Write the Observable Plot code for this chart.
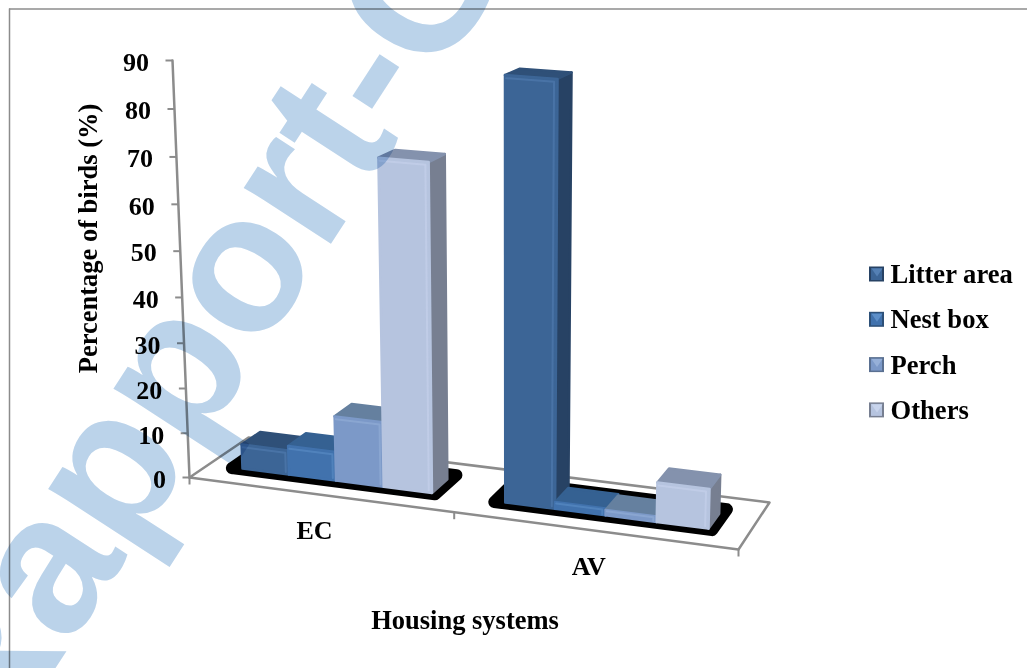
<!DOCTYPE html>
<html>
<head>
<meta charset="utf-8">
<style>
  html, body { margin: 0; padding: 0; background: #fff; }
  svg { display: block; }
</style>
<script src="https://cdn.jsdelivr.net/npm/d3@7"></script>
<script src="https://cdn.jsdelivr.net/npm/@observablehq/plot@0.6"></script>
</head>
<body>
<div id="chart"></div>
<script>
// Chart values
const categories = ["EC", "AV"];
const series = ["Litter area", "Nest box", "Perch", "Others"];
const ecValues = [5.5, 6.5, 14.5, 71.5];
const avValues = [90.5, 1.5, 1.2, 8.6];
const yTicks = [0, 10, 20, 30, 40, 50, 60, 70, 80, 90];

// Face shades per series
const frontShade = ["#3c6596", "#4172ad", "#7c99c8", "#b6c4df"];
const sideShade = ["#274264", "#2d5078", "#5a7091", "#777f91"];
const topShade = ["#2f5078", "#356192", "#65809f", "#8492ad"];
const glowShade = ["#5480b4", "#5d8fc9", "#96b0d8", "#c8d4ec"];

// Perspective camera: category/depth/value to page coordinates
const quad = [[189, 477], [738, 549], [769, 502], [248, 437]];
const vanish = [510, 8350];
const camera = (() => {
  const [[x0, y0], [x1, y1], [x2, y2], [x3, y3]] = quad;
  const dx1 = x1 - x2, dx2 = x3 - x2, sx = x0 - x1 + x2 - x3;
  const dy1 = y1 - y2, dy2 = y3 - y2, sy = y0 - y1 + y2 - y3;
  const det = dx1 * dy2 - dx2 * dy1;
  const g = (sx * dy2 - dx2 * sy) / det;
  const h = (dx1 * sy - sx * dy1) / det;
  return {
    a: x1 - x0 + g * x1, b: x3 - x0 + h * x3, c: x0,
    d: y1 - y0 + g * y1, e: y3 - y0 + h * y3, f: y0,
    g, h, j: (60 - 477) / (90 * (vanish[1] - 60))
  };
})();
function project(u, v, value) {
  const s = u / 2, k = camera;
  const w = k.g * s + k.h * v + 1 + k.j * value;
  return {
    x: (k.a * s + k.b * v + k.c + vanish[0] * k.j * value) / w,
    y: (k.d * s + k.e * v + k.f + vanish[1] * k.j * value) / w
  };
}

const pad = 0.132, barWidth = 0.182, v0 = 0.32, v1 = 0.64;

// Closed polygon rows for a set of corners
let polygonId = 0;
function polygon(corners, fill) {
  const id = polygonId++;
  return [...corners, corners[0]].map(([u, v, h]) => ({ ...project(u, v, h), id, fill }));
}

const barFaces = [];
const barGlow = [];
categories.forEach((category, g) => {
  const values = g === 0 ? ecValues : avValues;
  series.forEach((name, i) => {
    const h = values[i];
    const u0 = g + pad + i * barWidth, u1 = u0 + barWidth;
    barFaces.push(
      ...polygon([[u1, v0, 0], [u1, v1, 0], [u1, v1, h], [u1, v0, h]], sideShade[i]),
      ...polygon([[u0, v0, h], [u1, v0, h], [u1, v1, h], [u0, v1, h]], topShade[i]),
      ...polygon([[u0, v0, 0], [u1, v0, 0], [u1, v0, h], [u0, v0, h]], frontShade[i])
    );
    // Bevel highlight along the top and right edges of the front face
    const id = polygonId++;
    const inset = 0.012, drop = Math.min(0.6, h * 0.2);
    barGlow.push(
      ...[[u0 + 0.004, v0, h - drop], [u1 - inset, v0, h - drop], [u1 - inset, v0, Math.min(h * 0.1, 0.5)]]
        .map(([u, v, z]) => ({ ...project(u, v, z), id, stroke: glowShade[i] }))
    );
  });
});

// Cast shadows on the floor
const shadowBounds = { u0: 0.095, u1: 0.875, v0: 0.3, v1: 0.75 };
const shadows = categories.flatMap((_, g) => polygon([
  [g + shadowBounds.u0, shadowBounds.v0, 0],
  [g + shadowBounds.u1, shadowBounds.v0, 0],
  [g + shadowBounds.u1, shadowBounds.v1, 0],
  [g + shadowBounds.u0, shadowBounds.v1, 0]
], "#000"));

const floorOutline = polygon([[0, 0, 0], [2, 0, 0], [2, 1, 0], [0, 1, 0]], "none");
const wallAxis = [project(0, 0, 0), project(0, 0, 90)];

const yTickRows = yTicks.map((t) => ({ ...project(0, 0, t), label: String(t) }));
const xTickRows = [0, 1, 2].map((u) => project(u, 0, 0));
const xLabelRows = categories.map((label, g) => ({ ...project(g + 0.5, 0, 0), label }));

// Legend rows and the folded-corner glint on each key
const legendRows = series.map((name, i) => ({ name, i, y: 274 + i * 45.3 }));
const legendGlints = legendRows.flatMap((d) =>
  [[871, d.y - 6], [882, d.y - 6], [876.5, d.y + 2], [871, d.y - 6]]
    .map(([x, y]) => ({ x, y, id: d.name, fill: glowShade[d.i] }))
);

const axisGray = "#8c8c8c";
const serif = "'Liberation Serif', 'Times New Roman', serif";

const chart = Plot.plot({
  width: 1027,
  height: 668,
  margin: 0,
  x: { type: "linear", domain: [0, 1027], range: [0, 1027], axis: null },
  y: { type: "linear", domain: [0, 668], range: [0, 668], axis: null },
  style: { background: "#fff", fontFamily: serif },
  marks: [
    // Outer chart border
    Plot.ruleY([8.5], { x1: 9, x2: 1027, stroke: axisGray, strokeWidth: 1.5 }),
    Plot.ruleX([9], { y1: 8.5, y2: 668, stroke: axisGray, strokeWidth: 1.5 }),

    // Floor and axes
    Plot.line(floorOutline, { x: "x", y: "y", z: "id", stroke: axisGray, strokeWidth: 2.5 }),
    Plot.line(wallAxis, { x: "x", y: "y", stroke: axisGray, strokeWidth: 2.5 }),
    Plot.link(yTickRows, { x1: "x", y1: "y", x2: (d) => d.x - 7, y2: "y", stroke: axisGray, strokeWidth: 2 }),
    Plot.link(xTickRows, { x1: "x", y1: "y", x2: "x", y2: (d) => d.y + 7, stroke: axisGray, strokeWidth: 2 }),

    // Shadows, then the bars drawn left to right
    Plot.line(shadows, { x: "x", y: "y", z: "id", fill: "#000", stroke: "#000", strokeWidth: 12, strokeLinejoin: "round" }),
    Plot.line(barFaces, { x: "x", y: "y", z: "id", fill: "fill", stroke: "fill", strokeWidth: 2.5, strokeLinejoin: "round" }),
    Plot.line(barGlow, { x: "x", y: "y", z: "id", stroke: "stroke", strokeWidth: 2, strokeOpacity: 0.55, strokeLinejoin: "round" }),

    // Axis labels
    Plot.text(yTickRows, { x: "x", y: "y", text: "label", dx: -23.5, dy: 2, textAnchor: "end", fontSize: 26, fontWeight: "bold", fill: "#000" }),
    Plot.text(xLabelRows, { x: "x", y: "y", text: "label", dx: -5, dy: 36, fontSize: 26, fontWeight: "bold", fill: "#000" }),
    Plot.text(["Percentage of birds (%)"], { x: 88, y: 238, text: (d) => d, rotate: -90, fontSize: 26.5, fontWeight: "bold", fill: "#000" }),
    Plot.text(["Housing systems"], { x: 464.5, y: 620, text: (d) => d, fontSize: 26.5, fontWeight: "bold", fill: "#000" }),

    // Legend
    Plot.rect(legendRows, { x1: 869, x2: 884, y1: (d) => d.y - 7.5, y2: (d) => d.y + 7.5, fill: (d) => sideShade[d.i] }),
    Plot.rect(legendRows, { x1: 871, x2: 882, y1: (d) => d.y - 6, y2: (d) => d.y + 6, fill: (d) => frontShade[d.i] }),
    Plot.line(legendGlints, { x: "x", y: "y", z: "id", fill: "fill", stroke: "none" }),
    Plot.text(legendRows, { x: 890, y: "y", text: "name", textAnchor: "start", fontSize: 26.6, fontWeight: "bold", fill: "#000" }),

    // Diagonal document stamp laid over the whole figure
    Plot.text(["Rapport-Gratuit"], {
      x: -9, y: 766, text: (d) => d, rotate: -57, textAnchor: "start", lineAnchor: "bottom",
      fontSize: 196, fontWeight: "bold", fontFamily: "'Liberation Sans', Arial, sans-serif",
      fill: "#bbd3ea", mixBlendMode: "multiply"
    })
  ]
});
document.getElementById("chart").append(chart);
</script>
</body>
</html>
